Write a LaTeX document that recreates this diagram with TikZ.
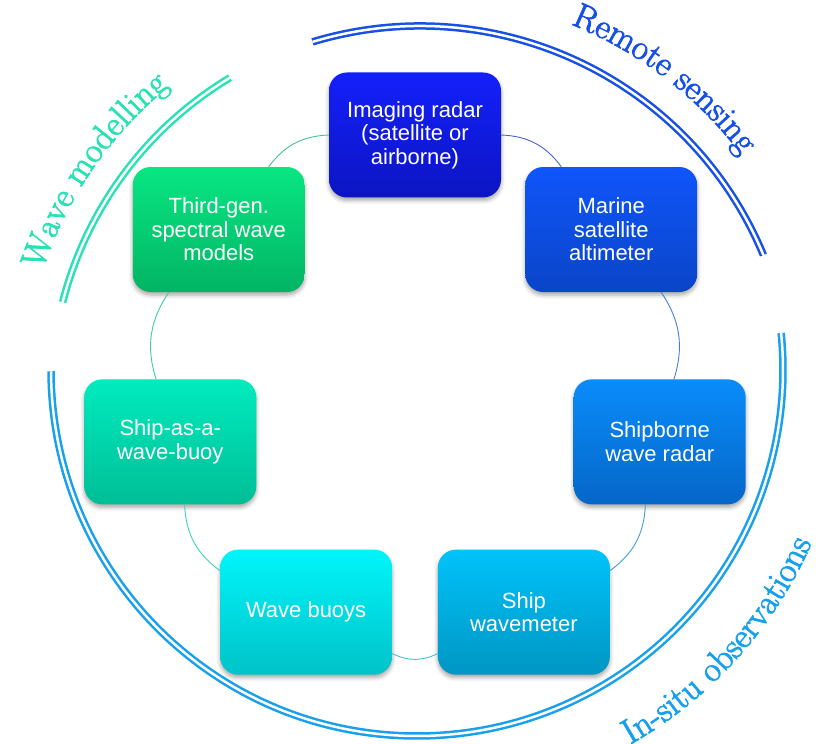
\documentclass[tikz,border=0pt]{standalone}
\usepackage{fontspec}
\newfontfamily\boxfont{Liberation Sans}
\newfontfamily\arcfont[FakeBold=2.5]{Latin Modern Roman}
\usetikzlibrary{shadows.blur,decorations.text}

\definecolor{radartop}{RGB}{20,32,250}
\definecolor{radarbot}{RGB}{12,21,194}
\definecolor{altitop}{RGB}{15,85,250}
\definecolor{altibot}{RGB}{10,69,200}
\definecolor{shiprtop}{RGB}{10,140,250}
\definecolor{shiprbot}{RGB}{5,102,200}
\definecolor{metertop}{RGB}{0,195,250}
\definecolor{meterbot}{RGB}{0,150,195}
\definecolor{buoytop}{RGB}{0,245,250}
\definecolor{buoybot}{RGB}{0,195,200}
\definecolor{sawbtop}{RGB}{0,235,190}
\definecolor{sawbbot}{RGB}{0,190,150}
\definecolor{modeltop}{RGB}{8,230,130}
\definecolor{modelbot}{RGB}{3,180,100}
\definecolor{remotecol}{RGB}{23,80,230}
\definecolor{insitucol}{RGB}{23,160,235}
\definecolor{modelcol}{RGB}{40,225,180}

\begin{document}
\begin{tikzpicture}[x=1pt,y=1pt,
  wavebox/.style={rounded corners=18pt, minimum width=172pt, minimum height=125pt,
    align=center, text=white, font=\boxfont\fontsize{22}{23.5}\selectfont,
    blur shadow={shadow xshift=0pt, shadow yshift=-3pt, shadow opacity=35, shadow blur radius=4pt}},
  ring/.style={line width=0.9pt, bend left=25.7},
  bigarc/.style={double=white, double distance=2.5pt, line width=2.5pt},
  arclabel/.style={decorate, decoration={text along path, text align=center, text={#1}}}
]
\useasboundingbox (0,0) rectangle (827,744);

\begin{scope}[shift={(415,358)}]
  \node[wavebox, top color=radartop, bottom color=radarbot] (radar) at (90:251) {Imaging radar\\(satellite or\\airborne)};
  \node[wavebox, top color=altitop, bottom color=altibot] (altimeter) at (38.57:251) {Marine\\satellite\\altimeter};
  \node[wavebox, top color=shiprtop, bottom color=shiprbot] (shipradar) at (-12.86:251) {Shipborne\\wave radar};
  \node[wavebox, top color=metertop, bottom color=meterbot] (wavemeter) at (-64.29:251) {Ship\\wavemeter};
  \node[wavebox, top color=buoytop, bottom color=buoybot] (buoys) at (-115.71:251) {Wave buoys};
  \node[wavebox, top color=sawbtop, bottom color=sawbbot] (sawb) at (-167.14:251) {Ship-as-a-\\wave-buoy};
  \node[wavebox, top color=modeltop, bottom color=modelbot] (models) at (141.43:251) {Third-gen.\\spectral wave\\models};
\end{scope}

\draw[ring, draw=radarbot!50!altibot!75] (radar) to (altimeter);
\draw[ring, draw=altibot!50!shiprbot!75] (altimeter) to (shipradar);
\draw[ring, draw=shiprbot!50!meterbot!75] (shipradar) to (wavemeter);
\draw[ring, draw=meterbot!50!buoybot!75] (wavemeter) to (buoys);
\draw[ring, draw=buoybot!50!sawbbot!75] (buoys) to (sawb);
\draw[ring, draw=sawbbot!50!modelbot!75] (sawb) to (models);
\draw[ring, draw=modelbot!75] (models) to (radar);

\draw[bigarc, draw=remotecol] (420,346) ++(106.8:372) arc[start angle=106.8, end angle=22.6, radius=372];
\draw[bigarc, draw=modelcol] (420,350) ++(165.6:369) arc[start angle=165.6, end angle=121, radius=369];
\draw[bigarc, draw=insitucol] (417,374) ++(180.2:366) arc[start angle=180.2, end angle=365.8, radius=366];

\path[arclabel={|\arcfont\fontsize{35}{35}\selectfont\color{remotecol}|Remote sensing}] (420,346) ++(74:403) arc[start angle=74, end angle=31, radius=403];
\path[arclabel={|\arcfont\fontsize{35}{35}\selectfont\color{modelcol}|Wave modelling}] (420,350) ++(167:397) arc[start angle=167, end angle=124, radius=397];
\path[arclabel={|\arcfont\fontsize{35}{35}\selectfont\color{insitucol}|In-situ observations}] (417,374) ++(-69:431) arc[start angle=-69, end angle=-15, radius=431];
\end{tikzpicture}
\end{document}
